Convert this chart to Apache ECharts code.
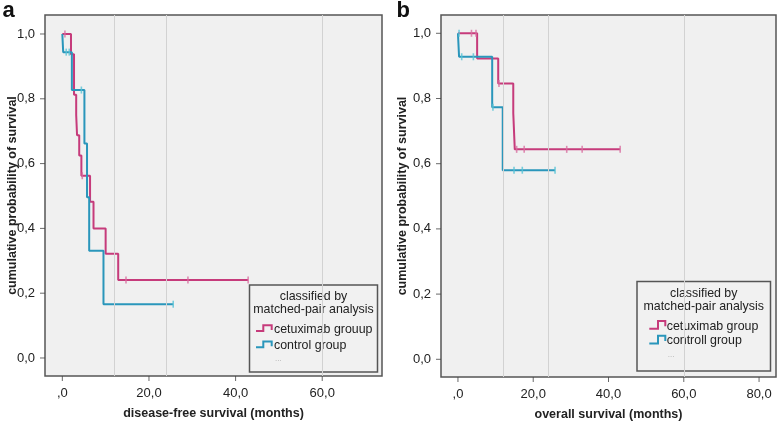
<!DOCTYPE html>
<html><head><meta charset="utf-8">
<script src="https://cdn.jsdelivr.net/npm/echarts@6/dist/echarts.min.js"></script>
<style>html,body{margin:0;padding:0;background:#fff}#c{width:778px;height:424px}</style>
</head><body><div id="c"></div>
<script>
// tick values
const yTicks = [0, 0.2, 0.4, 0.6, 0.8, 1.0];
const xTicksA = [0, 20, 40, 60];
const xTicksB = [0, 20, 40, 60, 80];
const refLines = [12, 24, 60];

// panel a: disease-free survival
const dfsCetT = [0, 2.0, 2.7, 3.2, 3.4, 3.9, 4.4, 6.4, 7.2, 10.0, 12.9, 42.9];
const dfsCetS = [1, 0.9375, 0.8125, 0.75, 0.6875, 0.625, 0.5625, 0.482, 0.40, 0.322, 0.241, 0.241];
const dfsCetCensT = [0.6, 4.6, 14.7, 29.0, 42.9];
const dfsCetCensS = [1, 0.5625, 0.241, 0.241, 0.241];
const dfsCtlT = [0, 0.2, 2.2, 5.1, 5.7, 6.2, 9.5, 25.6];
const dfsCtlS = [1, 0.944, 0.827, 0.662, 0.496, 0.331, 0.166, 0.166];
const dfsCtlCensT = [0.9, 1.6, 4.4, 25.6];
const dfsCtlCensS = [0.944, 0.944, 0.827, 0.166];

// panel b: overall survival
const osCetT = [0, 5.1, 10.7, 14.7, 15.1, 43.1];
const osCetS = [1, 0.923, 0.846, 0.755, 0.644, 0.644];
const osCetCensT = [3.6, 4.8, 10.9, 15.6, 17.6, 28.9, 33.0, 43.1];
const osCetCensS = [1, 1, 0.846, 0.644, 0.644, 0.644, 0.644, 0.644];
const osCtlT = [0, 0.3, 9.1, 11.9, 25.8];
const osCtlS = [1, 0.928, 0.773, 0.58, 0.58];
const osCtlCensT = [0.3, 1.0, 4.1, 9.3, 14.9, 17.1, 25.8];
const osCtlCensS = [1, 0.928, 0.928, 0.773, 0.58, 0.58, 0.58];

const zip = (a, b) => a.map((v, i) => [v, b[i]]);
const MAG = '#c63b7b', MAG_L = '#d86fa0', CYA = '#2a96bb', CYA_L = '#58c3d6';
const FONT = 'Liberation Sans, Arial, sans-serif';
const fmt = v => (v === 0 ? ',0' : v.toFixed(1).replace('.', ','));

// axis extents (layout of the frame)
const RANGE_A = { x: [-4, 73.8], y: [-0.0556, 1.0586] };
const RANGE_B = { x: [-4.5, 84.5], y: [-0.0543, 1.0561] };

function xAxis(idx, r, ticks, name) {
  return {
    gridIndex: idx, type: 'value', min: r.x[0], max: r.x[1], position: 'bottom',
    axisLine: { show: false, onZero: false }, splitLine: { show: false }, axisTick: { show: false },
    axisLabel: { customValues: ticks, formatter: fmt, margin: 11, fontSize: 13, color: '#222', fontFamily: FONT },
    name: name, nameLocation: 'middle', nameGap: 31, nameMoveOverlap: false,
    nameTextStyle: { fontWeight: 'bold', fontSize: 12.5, color: '#222', fontFamily: FONT }
  };
}
function yAxis(idx, r, gap) {
  return {
    gridIndex: idx, type: 'value', min: r.y[0], max: r.y[1], position: 'left',
    axisLine: { show: false, onZero: false }, splitLine: { show: false }, axisTick: { show: false },
    axisLabel: { customValues: yTicks, formatter: v => v.toFixed(1).replace('.', ','), margin: 10, fontSize: 13, color: '#222', fontFamily: FONT },
    name: 'cumulative probability of survival', nameLocation: 'middle', nameGap: gap, nameMoveOverlap: false,
    nameTextStyle: { fontWeight: 'bold', fontSize: 12.5, color: '#222', fontFamily: FONT }
  };
}
// outward tick marks placed at the frame edge through the axis scales
function yTickMarks(idx, r) {
  return { type: 'scatter', xAxisIndex: idx, yAxisIndex: idx, clip: false, silent: true, z: 6,
    symbol: 'rect', symbolSize: [5, 1], symbolOffset: [-2.5, 0],
    data: yTicks.map(v => [r.x[0], v]), itemStyle: { color: '#444' } };
}
function xTickMarks(idx, r, ticks) {
  return { type: 'scatter', xAxisIndex: idx, yAxisIndex: idx, clip: false, silent: true, z: 6,
    symbol: 'rect', symbolSize: [1, 5], symbolOffset: [0, 2.5],
    data: ticks.map(v => [v, r.y[0]]), itemStyle: { color: '#444' } };
}
function refSeries(idx) {
  return {
    type: 'line', xAxisIndex: idx, yAxisIndex: idx, data: [], z: 1, silent: true,
    markLine: { silent: true, symbol: ['none', 'none'], label: { show: false },
      lineStyle: { color: '#d2d2d2', width: 1, type: 'solid' },
      data: refLines.map(v => ({ xAxis: v })) }
  };
}
function km(idx, name, t, s, color) {
  return { type: 'line', name: name, xAxisIndex: idx, yAxisIndex: idx, step: 'end', symbol: 'none',
    data: zip(t, s), lineStyle: { color: color, width: 2 }, itemStyle: { color: color }, z: 3 };
}
function cens(idx, t, s, color) {
  return { type: 'scatter', xAxisIndex: idx, yAxisIndex: idx, symbol: 'rect', symbolSize: [1.6, 7],
    data: zip(t, s), itemStyle: { color: color }, z: 4, silent: true };
}
function legendBox(x, y, w, h, cx, t1y, t2y, tx, items, dotY) {
  const els = [
    { type: 'rect', shape: { x: x, y: y, width: w, height: h }, style: { fill: '#f1f1f1', stroke: '#555', lineWidth: 1.5 } },
    { type: 'text', style: { text: 'classified by', x: cx, y: t1y, align: 'center', verticalAlign: 'middle', font: '12.4px ' + FONT, fill: '#222' } },
    { type: 'text', style: { text: 'matched-pair analysis', x: cx, y: t2y, align: 'center', verticalAlign: 'middle', font: '12.4px ' + FONT, fill: '#222' } },
    { type: 'text', style: { text: '...', x: tx + 1, y: dotY, align: 'left', verticalAlign: 'middle', font: '8px ' + FONT, fill: '#aaa' } }
  ];
  items.forEach(it => {
    els.push({ type: 'polyline', shape: { points: it.pts }, style: { stroke: it.color, lineWidth: 2, fill: null } });
    els.push({ type: 'text', style: { text: it.label, x: tx, y: it.y, align: 'left', verticalAlign: 'middle', font: '12.4px ' + FONT, fill: '#222' } });
  });
  return els;
}

const chart = echarts.init(document.getElementById('c'), null, { renderer: 'canvas' });
chart.setOption({
  animation: false,
  grid: [
    { left: 45, top: 15, width: 337, height: 361, show: true, backgroundColor: '#f0f0f0', borderColor: '#555', borderWidth: 1.5, containLabel: false, outerBoundsMode: 'none' },
    { left: 441, top: 15, width: 335, height: 362, show: true, backgroundColor: '#f0f0f0', borderColor: '#555', borderWidth: 1.5, containLabel: false, outerBoundsMode: 'none' }
  ],
  xAxis: [
    xAxis(0, RANGE_A, xTicksA, 'disease-free survival (months)'),
    xAxis(1, RANGE_B, xTicksB, 'overall survival (months)')
  ],
  yAxis: [
    yAxis(0, RANGE_A, 26),
    yAxis(1, RANGE_B, 32)
  ],
  series: [
    refSeries(0), refSeries(1),
    yTickMarks(0, RANGE_A), xTickMarks(0, RANGE_A, xTicksA),
    yTickMarks(1, RANGE_B), xTickMarks(1, RANGE_B, xTicksB),
    km(0, 'cetuximab grouup', dfsCetT, dfsCetS, MAG),
    km(0, 'control group', dfsCtlT, dfsCtlS, CYA),
    cens(0, dfsCetCensT, dfsCetCensS, MAG_L),
    cens(0, dfsCtlCensT, dfsCtlCensS, CYA_L),
    km(1, 'cetuximab group', osCetT, osCetS, MAG),
    km(1, 'controll group', osCtlT, osCtlS, CYA),
    cens(1, osCetCensT, osCetCensS, MAG_L),
    cens(1, osCtlCensT, osCtlCensS, CYA_L)
  ],
  graphic: [].concat(
    [
      { type: 'text', style: { text: 'a', x: 2.5, y: 10.8, verticalAlign: 'middle', font: 'bold 22px ' + FONT, fill: '#111' } },
      { type: 'text', style: { text: 'b', x: 396.5, y: 10.8, verticalAlign: 'middle', font: 'bold 22px ' + FONT, fill: '#111' } }
    ],
    legendBox(249.5, 285, 128, 87, 313.5, 297, 309.7, 274, [
      { label: 'cetuximab grouup', y: 329.7, color: MAG, pts: [[256, 331], [263.3, 331], [263.3, 325.3], [271.7, 325.3], [271.7, 330]] },
      { label: 'control group', y: 346, color: CYA, pts: [[256, 347.3], [263.3, 347.3], [263.3, 341.6], [271.7, 341.6], [271.7, 346.3]] }
    ], 359),
    legendBox(637, 281.5, 133.5, 89.5, 703.7, 293.7, 306.3, 666.7, [
      { label: 'cetuximab group', y: 326.3, color: MAG, pts: [[649.3, 328.7], [658, 328.7], [658, 321], [665.3, 321], [665.3, 326.3]] },
      { label: 'controll group', y: 341, color: CYA, pts: [[649.3, 343.4], [658, 343.4], [658, 335.7], [665.3, 335.7], [665.3, 341]] }
    ], 355)
  )
});
</script></body></html>
